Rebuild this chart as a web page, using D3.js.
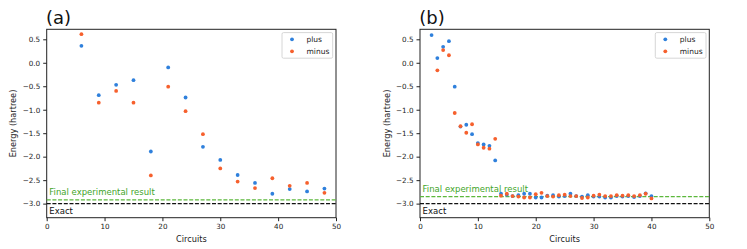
<!DOCTYPE html>
<html>
<head>
<meta charset="utf-8">
<title>Energy vs circuits</title>
<script src="https://d3js.org/d3.v7.min.js"></script>
<style>
  body { margin: 0; background: #fff; }
  svg text { font-family: "DejaVu Sans", sans-serif; }
  .axis path, .axis line { stroke: #222; }
  .axis text { font-size: 7.2px; fill: #222; }
</style>
</head>
<body>
<script>
// panel (a)
var circuitsA = [6, 9, 12, 15, 18, 21, 24, 27, 30, 33, 36, 39, 42, 45, 48];
var plusA  = [0.36, -0.69, -0.47, -0.37, -1.89, -0.10, -0.74, -1.79, -2.07, -2.39, -2.56, -2.79, -2.69, -2.74, -2.68];
var minusA = [0.61, -0.85, -0.60, -0.85, -2.40, -0.51, -1.03, -1.52, -2.25, -2.53, -2.67, -2.46, -2.62, -2.56, -2.77];
var finalA = -2.92;

// panel (b)
var circuitsB = [2, 3, 4, 5, 6, 7, 8, 9, 10, 11, 12, 13, 14, 15, 16, 17, 18, 19, 20, 21,
                 22, 23, 24, 25, 26, 27, 28, 29, 30, 31, 32, 33, 34, 35, 36, 37, 38, 39, 40];
var plusB  = [0.59, 0.10, 0.34, 0.46, -0.51, -1.36, -1.32, -1.52, -1.71, -1.74, -1.77, -2.08, -2.79, -2.81,
              -2.84, -2.82, -2.79, -2.79, -2.87, -2.87, -2.83, -2.82, -2.85, -2.84, -2.79, -2.84, -2.85, -2.82,
              -2.85, -2.85, -2.87, -2.87, -2.84, -2.85, -2.84, -2.86, -2.84, -2.78, -2.84];
var minusB = [null, -0.16, 0.27, 0.16, -1.07, -1.35, -1.49, -1.31, -1.74, -1.81, -1.83, -1.62, -2.83, -2.79,
              -2.84, -2.85, -2.87, -2.87, -2.80, -2.77, -2.84, -2.85, -2.82, -2.81, -2.84, -2.84, -2.88, -2.87,
              -2.83, -2.81, -2.84, -2.84, -2.82, -2.83, -2.82, -2.84, -2.82, -2.79, -2.89];
var finalB = -2.85;

var exactE = -3.0;
var xTicks = [0, 10, 20, 30, 40, 50];
var yTicks = [0.5, 0.0, -0.5, -1.0, -1.5, -2.0, -2.5, -3.0];
var seriesNames = ["plus", "minus"];

var colors = { plus: "#2f80dc", minus: "#f6602d", final: "#5cb83c", finalText: "#3fa52a" };

var W = 747, H = 249;
var svg = d3.select("body").append("svg").attr("width", W).attr("height", H);

function drawPanel(left, letter, circuits, plus, minus, finalE) {
  var right = left + 289.3, top = 29.3, bottom = 217.7;
  var x = d3.scaleLinear().domain([0, 50]).range([left, right]);
  var y = d3.scaleLinear().domain([-3.3, 0.713]).range([bottom, top]);
  var g = svg.append("g");

  // frame
  g.append("rect")
    .attr("x", left).attr("y", top)
    .attr("width", right - left).attr("height", bottom - top)
    .attr("fill", "none").attr("stroke", "#222").attr("stroke-width", 1);

  g.append("g").attr("class", "axis")
    .attr("transform", "translate(0," + bottom + ")")
    .call(d3.axisBottom(x).tickValues(xTicks).tickSize(3.5).tickPadding(3).tickFormat(d3.format("d")))
    .call(a => a.select(".domain").remove());

  g.append("g").attr("class", "axis")
    .attr("transform", "translate(" + left + ",0)")
    .call(d3.axisLeft(y).tickValues(yTicks).tickSize(3.5).tickPadding(3).tickFormat(d3.format(".1f")))
    .call(a => a.select(".domain").remove());

  // reference lines
  g.append("line")
    .attr("x1", x(0)).attr("x2", x(50)).attr("y1", y(finalE)).attr("y2", y(finalE))
    .attr("stroke", colors.final).attr("stroke-width", 1.3).attr("stroke-dasharray", "4,1.7");
  g.append("line")
    .attr("x1", x(0)).attr("x2", x(50)).attr("y1", y(exactE)).attr("y2", y(exactE))
    .attr("stroke", "#111").attr("stroke-width", 1.1).attr("stroke-dasharray", "4,1.7");

  g.append("text")
    .attr("x", left + 2.6).attr("y", y(finalE) - 4.6)
    .attr("font-size", 8.5).attr("fill", colors.finalText)
    .text("Final experimental result");
  g.append("text")
    .attr("x", left + 2.6).attr("y", y(exactE) + 10.5)
    .attr("font-size", 8.5).attr("fill", "#111")
    .text("Exact");

  // points
  [["plus", plus], ["minus", minus]].forEach(function (s) {
    var pts = circuits.map((c, i) => ({ c: c, v: s[1][i] })).filter(d => d.v != null);
    g.selectAll(".pt-" + s[0]).data(pts).enter().append("circle")
      .attr("class", "pt-" + s[0])
      .attr("cx", d => x(d.c)).attr("cy", d => y(d.v))
      .attr("r", 1.9).attr("fill", colors[s[0]]);
  });

  // legend
  var lg = g.append("g");
  lg.append("rect")
    .attr("x", right - 54).attr("y", top + 3.3)
    .attr("width", 50.7).attr("height", 25.6).attr("rx", 1.5)
    .attr("fill", "#fff").attr("stroke", "#ccc").attr("stroke-width", 0.8);
  seriesNames.forEach(function (n, i) {
    lg.append("circle")
      .attr("cx", right - 44).attr("cy", top + 10 + i * 12)
      .attr("r", 1.9).attr("fill", colors[n]);
    lg.append("text")
      .attr("x", right - 29.5).attr("y", top + 12.7 + i * 12)
      .attr("font-size", 7.5).attr("fill", "#222").text(n);
  });

  // labels
  g.append("text")
    .attr("x", left - 0.7).attr("y", 23.5)
    .attr("font-size", 18).attr("fill", "#111")
    .text("(" + letter + ")");
  g.append("text")
    .attr("x", (left + right) / 2).attr("y", 242)
    .attr("text-anchor", "middle").attr("font-size", 8.2).attr("fill", "#222")
    .text("Circuits");
  g.append("text")
    .attr("transform", "translate(" + (left - 30.5) + "," + ((top + bottom) / 2) + ") rotate(-90)")
    .attr("text-anchor", "middle").attr("font-size", 8.2).attr("fill", "#222")
    .text("Energy (hartree)");
}

drawPanel(46.7, "a", circuitsA, plusA, minusA, finalA);
drawPanel(420, "b", circuitsB, plusB, minusB, finalB);
</script>
</body>
</html>
